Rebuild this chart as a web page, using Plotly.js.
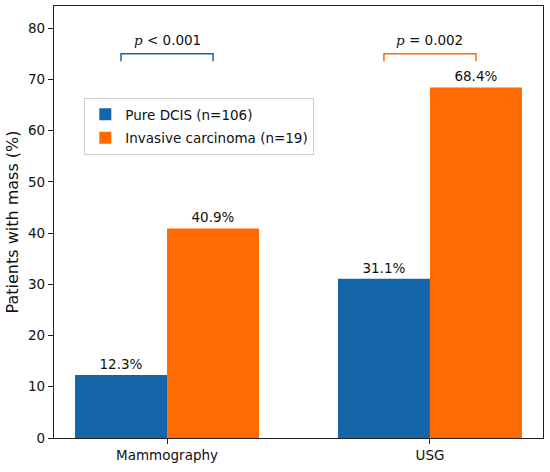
<!DOCTYPE html>
<html><head><meta charset="utf-8">
<script src="https://cdn.plot.ly/plotly-3.0.1.min.js"></script>
<style>html,body{margin:0;padding:0;background:#fff}#chart{width:550px;height:472px}</style>
</head><body><div id="chart"></div>
<script>
const categories = ["Mammography", "USG"];
const seriesNames = ["Pure DCIS (n=106)", "Invasive carcinoma (n=19)"];
const dcisValues = [12.3, 31.1];
const invasiveValues = [40.9, 68.4];
const pLabels = ["< 0.001", "= 0.002"];
const bracketLevel = 75;
const yTicks = [0, 10, 20, 30, 40, 50, 60, 70, 80];

const blue = "#1565A9", orange = "#FF6B00";
const barWidth = 0.35;
const font = "DejaVu Sans, sans-serif";

const traces = [
  {type:"bar", name:seriesNames[0], x:categories, y:dcisValues, marker:{color:blue},
   legendgroup:"a",
   texttemplate:"%{y:.1f}%", textposition:"outside", cliponaxis:false,
   textfont:{family:font,size:13.5,color:"#111"}},
  {type:"bar", name:seriesNames[1], x:categories, y:invasiveValues, marker:{color:orange},
   legendgroup:"b",
   texttemplate:"%{y:.1f}%", textposition:"outside", cliponaxis:false,
   textfont:{family:font,size:13.5,color:"#111"}}
];

const bracketColors = [blue, orange];
const shapes = [], annotations = [];
categories.forEach((c, i) => {
  const x0 = i - barWidth/2, x1 = i + barWidth/2;
  shapes.push({type:"path", xref:"x", yref:"y",
    path:`M ${x0},${bracketLevel-1.5} L ${x0},${bracketLevel} L ${x1},${bracketLevel} L ${x1},${bracketLevel-1.5}`,
    line:{color:bracketColors[i], width:1.5}});
  annotations.push({xref:"x", yref:"y", x:i, y:bracketLevel, yshift:4, yanchor:"bottom",
    text:'<span style="font-family:DejaVu Serif"><i>p</i></span> ' + pLabels[i],
    showarrow:false, font:{family:font,size:13.5,color:"#111"}});
});

const layout = {
  width:550, height:472,
  margin:{l:54, r:7, t:6, b:34},
  paper_bgcolor:"#fff", plot_bgcolor:"#fff",
  font:{family:font, size:13.5, color:"#111"},
  barmode:"group", bargap:0.3, bargroupgap:0,
  showlegend:true,
  legend:{x:0.062, y:0.787, xanchor:"left", yanchor:"top",
    bgcolor:"rgba(255,255,255,0.9)", bordercolor:"#cccccc", borderwidth:1,
    font:{family:font,size:13.5,color:"#111"}, tracegroupgap:3},
  xaxis:{type:"category", range:[-0.43, 1.43], showline:true, linecolor:"#222", linewidth:1.2,
    mirror:true, ticks:"outside", ticklen:5, tickcolor:"#222", showgrid:false, zeroline:false,
    tickfont:{family:font,size:13.5,color:"#111"}},
  yaxis:{range:[0, 84.3], tickvals:yTicks, showline:true, linecolor:"#222", linewidth:1.2,
    mirror:true, ticks:"outside", ticklen:5, tickcolor:"#222", showgrid:false, zeroline:false,
    tickfont:{family:font,size:13.5,color:"#111"},
    title:{text:"Patients with mass (%)", font:{family:font,size:16,color:"#111"}, standoff:5}},
  shapes:shapes, annotations:annotations
};
Plotly.newPlot("chart", traces, layout, {staticPlot:true, displayModeBar:false});
</script></body></html>
